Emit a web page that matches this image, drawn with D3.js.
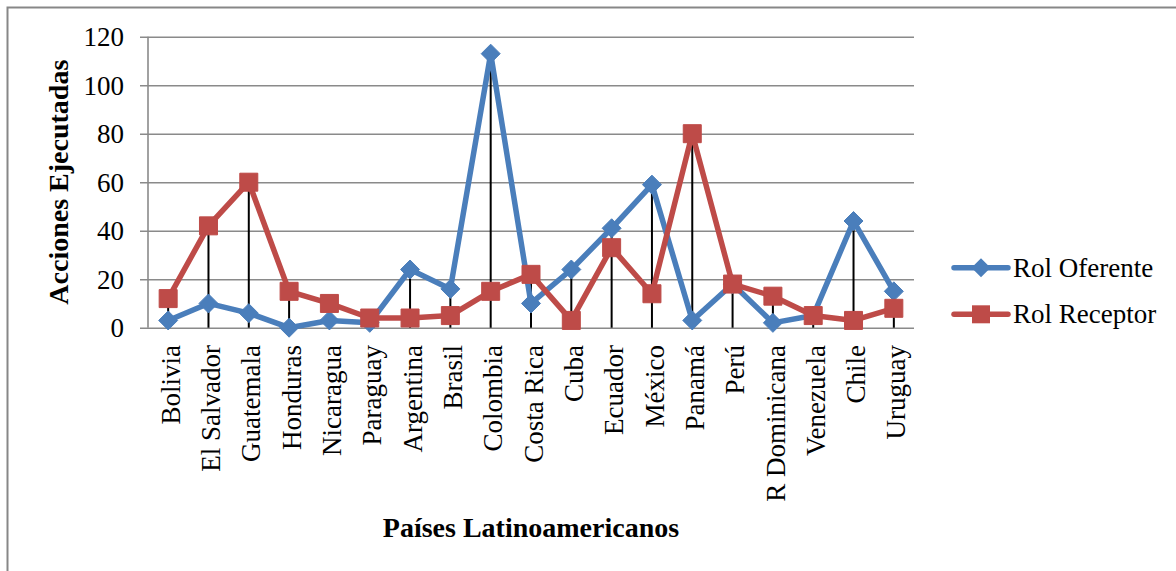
<!DOCTYPE html>
<html>
<head>
<meta charset="utf-8">
<script src="https://cdn.jsdelivr.net/npm/d3@7"></script>
<style>
html,body{margin:0;padding:0;background:#fff;}
svg{display:block;}
svg text{font-family:"Liberation Serif",serif !important;fill:#000;}
</style>
</head>
<body>
<svg id="chart" width="1176" height="571"></svg>
<script>
const categories = ["Bolivia","El Salvador","Guatemala","Honduras","Nicaragua","Paraguay","Argentina","Brasil","Colombia","Costa Rica","Cuba","Ecuador","México","Panamá","Perú","R Dominicana","Venezuela","Chile","Uruguay"];
const oferente = [3,10,6,0,3,2,24,16,113,10,24,41,59,3,18,2,5,44,15];
const receptor = [12,42,60,15,10,4,4,5,15,22,3,33,14,80,18,13,5,3,8];
const yTicks = [0,20,40,60,80,100,120];
const seriesNames = ["Rol Oferente","Rol Receptor"];
const seriesColors = ["#4A7EBB","#BE4B48"];
const yTitle = "Acciones Ejecutadas";
const xTitle = "Países Latinoamericanos";

const FONT = "'Liberation Serif', serif";
const svg = d3.select("#chart");
const m = {left:148, right:914, top:36.7, bottom:327.7};

// outer border
svg.append("path")
  .attr("d","M7.5,575 L7.5,7.5 L1180,7.5")
  .attr("fill","none").attr("stroke","#878787").attr("stroke-width",2);

const x = d3.scaleBand().domain(categories).range([m.left,m.right]).padding(0);
const y = d3.scaleLinear().domain([0,120]).range([m.bottom,m.top]);
const cx = d => x(d) + x.bandwidth()/2;

// gridlines + y ticks
const yAxis = d3.axisLeft(y).tickValues(yTicks).tickSize(-(m.right-m.left)).tickSizeOuter(0).tickPadding(24);
const gy = svg.append("g").attr("transform",`translate(${m.left},0)`).call(yAxis)
  .attr("font-family",FONT);
gy.select(".domain").remove();
gy.selectAll(".tick line").attr("stroke","#8a8a8a").attr("stroke-width",1.6).attr("x1",-8);
gy.selectAll(".tick text").attr("font-size",27).style("font-family",FONT).attr("fill","#000").attr("dy","0.34em");
// y axis line
svg.append("line").attr("x1",m.left).attr("x2",m.left).attr("y1",m.top).attr("y2",m.bottom)
  .attr("stroke","#8a8a8a").attr("stroke-width",1.6);

// drop lines
svg.append("g").selectAll("line").data(categories).join("line")
  .attr("x1",d=>cx(d)).attr("x2",d=>cx(d))
  .attr("y1",y(0))
  .attr("y2",(d,i)=>y(Math.max(oferente[i],receptor[i])))
  .attr("stroke","#000").attr("stroke-width",2);

// x category labels
svg.append("g").selectAll("text").data(categories).join("text")
  .attr("transform",d=>`translate(${cx(d)},345) rotate(-90)`)
  .attr("text-anchor","end").attr("dy","0.43em")
  .style("font-family",FONT)
  .attr("font-size",27).text(d=>d);

const line = d3.line().x((v,i)=>cx(categories[i])).y(v=>y(v));
const diamond = s => `M0,${-s} L${s},0 L0,${s} L${-s},0 Z`;
const square = s => `M${-s},${-s} H${s} V${s} H${-s} Z`;

function drawSeries(vals, color, shape){
  svg.append("path").datum(vals).attr("d",line)
    .attr("fill","none").attr("stroke",color).attr("stroke-width",5.5)
    .attr("stroke-linejoin","round");
  svg.append("g").selectAll("path").data(vals).join("path")
    .attr("transform",(v,i)=>`translate(${cx(categories[i])},${y(v)})`)
    .attr("d",shape).attr("fill",color).attr("stroke",color).attr("stroke-width",1);
}
drawSeries(oferente, seriesColors[0], diamond(9.5));
drawSeries(receptor, seriesColors[1], square(9));

// legend
const legY = [267.7, 314.3];
const leg = svg.append("g");
seriesNames.forEach((n,i)=>{
  leg.append("line").attr("x1",954).attr("x2",1008).attr("y1",legY[i]).attr("y2",legY[i])
    .attr("stroke",seriesColors[i]).attr("stroke-width",5.5).attr("stroke-linecap","round");
  leg.append("path").attr("transform",`translate(981,${legY[i]})`)
    .attr("d", i===0 ? diamond(9.5) : square(9)).attr("fill",seriesColors[i]);
  leg.append("text").attr("x",1013).attr("y",legY[i]).attr("dy","0.34em")
    .style("font-family",FONT)
    .attr("font-size",27).text(n);
});

// axis titles
svg.append("text").attr("transform",`translate(68,${(m.top+m.bottom)/2}) rotate(-90)`)
  .attr("text-anchor","middle").attr("font-weight","bold").attr("font-size",28)
  .style("font-family",FONT).text(yTitle);
svg.append("text").attr("x",(m.left+m.right)/2).attr("y",537)
  .attr("text-anchor","middle").attr("font-weight","bold").attr("font-size",28)
  .style("font-family",FONT).text(xTitle);
</script>
</body>
</html>
